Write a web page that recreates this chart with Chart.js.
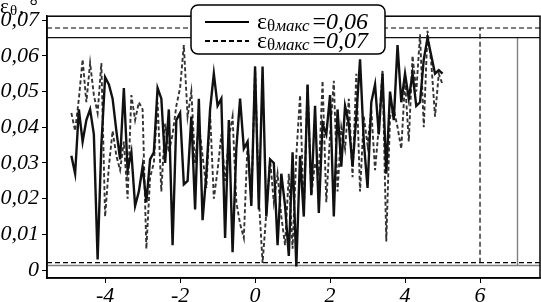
<!DOCTYPE html>
<html lang="ru">
<head>
<meta charset="UTF-8">
<title>εθ макс</title>
<script src="https://cdn.jsdelivr.net/npm/chart.js"></script>
<style>
  body { margin: 0; background: #fff; }
  #wrap { width: 541px; height: 302px; }
</style>
</head>
<body>
<div id="wrap"><canvas id="grafik" width="541" height="302"></canvas></div>
<script>
// координата по оси x
const xs = [
  -4.9,-4.8,-4.7,-4.6,-4.5,-4.4,-4.3,-4.2,-4.1,-4.0,
  -3.9,-3.8,-3.7,-3.6,-3.5,-3.4,-3.3,-3.2,-3.1,-3.0,
  -2.9,-2.8,-2.7,-2.6,-2.5,-2.4,-2.3,-2.2,-2.1,-2.0,
  -1.9,-1.8,-1.7,-1.6,-1.5,-1.4,-1.3,-1.2,-1.1,-1.0,
  -0.9,-0.8,-0.7,-0.6,-0.5,-0.4,-0.3,-0.2,-0.1,0.0,
  0.1,0.2,0.3,0.4,0.5,0.6,0.7,0.8,0.9,1.0,
  1.1,1.2,1.3,1.4,1.5,1.6,1.7,1.8,1.9,2.0,
  2.1,2.2,2.3,2.4,2.5,2.6,2.7,2.8,2.9,3.0,
  3.1,3.2,3.3,3.4,3.5,3.6,3.7,3.8,3.9,4.0,
  4.1,4.2,4.3,4.4,4.5,4.6,4.7,4.8,4.9,5.0
];
// εθ при εθмакс = 0,06 (сплошная)
const eps006 = [
  0.032,0.027,0.045,0.036,0.042,0.045,0.038,0.003,0.035,0.054,
  0.052,0.048,0.039,0.031,0.051,0.028,0.033,0.018,0.022,0.029,
  0.019,0.031,0.033,0.051,0.048,0.030,0.045,0.007,0.042,0.044,
  0.024,0.025,0.043,0.017,0.048,0.014,0.027,0.045,0.055,0.046,
  0.048,0.009,0.042,0.005,0.034,0.048,0.034,0.036,0.018,0.057,
  0.017,0.057,0.015,0.031,0.030,0.007,0.027,0.018,0.004,0.033,
  0.001,0.032,0.015,0.052,0.021,0.046,0.016,0.041,0.038,0.049,
  0.015,0.045,0.029,0.046,0.041,0.029,0.043,0.059,0.036,0.023,
  0.047,0.052,0.038,0.055,0.027,0.050,0.042,0.063,0.047,0.055,
  0.048,0.055,0.046,0.047,0.059,0.065,0.060,0.055,0.056,0.055
];
// εθ при εθмакс = 0,07 (штриховая)
const eps007 = [
  0.044,0.039,0.048,0.059,0.047,0.058,0.049,0.044,0.058,0.015,
  0.029,0.039,0.032,0.028,0.036,0.020,0.049,0.042,0.047,0.045,
  0.006,0.026,0.030,0.047,0.022,0.041,0.033,0.038,0.046,0.051,
  0.063,0.043,0.050,0.030,0.041,0.032,0.023,0.044,0.020,0.028,
  0.038,0.025,0.037,0.043,0.019,0.013,0.009,0.036,0.019,0.057,
  0.020,0.002,0.016,0.031,0.019,0.027,0.015,0.007,0.027,0.006,
  0.032,0.049,0.016,0.052,0.021,0.030,0.027,0.053,0.019,0.038,
  0.053,0.022,0.040,0.034,0.048,0.026,0.055,0.022,0.043,0.035,
  0.045,0.028,0.040,0.056,0.008,0.043,0.045,0.040,0.034,0.053,
  0.036,0.060,0.050,0.066,0.040,0.067,0.058,0.043,0.055,0.052
];
const labels = ['0,06', '0,07'];
const xTicks = [-4, -2, 0, 2, 4, 6];
const yTicks = [0, 0.01, 0.02, 0.03, 0.04, 0.05, 0.06, 0.07];
const xLim = [-5.55, 7.6];
const yLim = [-0.0022, 0.0711];
// уровни и границы
const hDash = [0.0678, 0.0021];
const hSolid = [0.0651, 0.0013];
const vDash = 6;
const vSolid = 7;

const serif = '"Liberation Serif", "Times New Roman", serif';
const pts = ys => xs.map((x, i) => ({ x: x, y: ys[i] }));
const seg = (x0, y0, x1, y1) => [{ x: x0, y: y0 }, { x: x1, y: y1 }];

function refLine(data, color, dash, w) {
  return { data: data, borderColor: color, borderWidth: w, borderDash: dash,
           pointRadius: 0, fill: false };
}

// ε с индексом θ макс
function drawEps(ctx, x, y, value) {
  ctx.font = '24px ' + serif;
  ctx.fillText('ε', x, y);
  x += ctx.measureText('ε').width;
  ctx.font = '17px ' + serif;
  ctx.fillText('θ', x, y + 2);
  x += ctx.measureText('θ').width;
  ctx.font = 'italic 17px ' + serif;
  ctx.fillText('макс', x, y + 2);
  x += ctx.measureText('макс').width + 3;
  ctx.font = '24px ' + serif;
  ctx.fillText('=', x, y);
  x += ctx.measureText('=').width;
  ctx.font = 'italic 24px ' + serif;
  ctx.fillText(value, x, y);
}

const ramka = {
  id: 'ramka',
  afterDraw(chart) {
    const ctx = chart.ctx, a = chart.chartArea;
    ctx.save();
    ctx.strokeStyle = '#000';
    ctx.lineWidth = 1.5;
    ctx.strokeRect(a.left, a.top, a.right - a.left, a.bottom - a.top);

    // подпись оси
    ctx.fillStyle = '#000';
    ctx.textBaseline = 'alphabetic';
    ctx.font = '21px ' + serif;
    ctx.fillText('ε', 0, 13);
    ctx.font = '15px ' + serif;
    ctx.fillText('θ', 10, 15);
    ctx.font = '21px ' + serif;
    ctx.fillText(', °', 19, 13);

    // легенда
    const bx = 191, by = 5, bw = 194, bh = 49, r = 7;
    ctx.beginPath();
    ctx.roundRect(bx, by, bw, bh, r);
    ctx.fillStyle = '#fff';
    ctx.fill();
    ctx.lineWidth = 1.5;
    ctx.strokeStyle = '#000';
    ctx.stroke();

    ctx.lineWidth = 2;
    ctx.beginPath();
    ctx.moveTo(205, 22); ctx.lineTo(249, 22);
    ctx.stroke();
    ctx.setLineDash([5, 3]);
    ctx.lineWidth = 1.8;
    ctx.beginPath();
    ctx.moveTo(205, 41); ctx.lineTo(249, 41);
    ctx.stroke();
    ctx.setLineDash([]);

    ctx.fillStyle = '#000';
    drawEps(ctx, 257, 29, labels[0]);
    drawEps(ctx, 257, 48, labels[1]);
    ctx.restore();
  }
};

const axisFont = { family: serif, size: 22, style: 'italic' };

new Chart(document.getElementById('grafik'), {
  type: 'line',
  data: {
    datasets: [
      { label: 'εθ макс =' + labels[0], data: pts(eps006), borderColor: '#111',
        borderWidth: 2.4, pointRadius: 0, tension: 0 },
      { label: 'εθ макс =' + labels[1], data: pts(eps007), borderColor: '#333',
        borderWidth: 1.9, borderDash: [4, 2.5], pointRadius: 0, tension: 0 },
      refLine(seg(xLim[0], hDash[0], xLim[1], hDash[0]), '#000', [5, 3], 1.2),
      refLine(seg(xLim[0], hDash[1], xLim[1], hDash[1]), '#000', [5, 3], 1.2),
      refLine(seg(xLim[0], hSolid[0], xLim[1], hSolid[0]), '#111', [], 1.4),
      refLine(seg(xLim[0], hSolid[1], xLim[1], hSolid[1]), '#808080', [], 1.4),
      refLine(seg(vDash, hDash[1], vDash, hDash[0]), '#000', [5, 3], 1.2),
      refLine(seg(vSolid, hSolid[1], vSolid, hSolid[0]), '#808080', [], 1.4)
    ]
  },
  options: {
    responsive: false,
    animation: false,
    layout: { padding: { top: 16, right: 1, left: 0, bottom: 0 } },
    plugins: { legend: { display: false }, tooltip: { enabled: false } },
    scales: {
      x: {
        type: 'linear', min: xLim[0], max: xLim[1],
        afterBuildTicks: s => { s.ticks = xTicks.map(v => ({ value: v })); },
        afterFit: s => { s.height = 24; },
        grid: { drawOnChartArea: false, drawTicks: true, tickLength: 5, color: '#000' },
        border: { color: '#000', width: 1.5 },
        ticks: { font: axisFont, color: '#000', padding: 0, maxRotation: 0,
                 callback: v => String(v) }
      },
      y: {
        type: 'linear', min: yLim[0], max: yLim[1],
        afterBuildTicks: s => { s.ticks = yTicks.map(v => ({ value: v })); },
        afterFit: s => { s.width = 47; },
        grid: { drawOnChartArea: false, drawTicks: true, tickLength: 5, color: '#000' },
        border: { color: '#000', width: 1.5 },
        ticks: { font: axisFont, color: '#000', padding: 3,
                 callback: v => v === 0 ? '0' : v.toFixed(2).replace('.', ',') }
      }
    }
  },
  plugins: [ramka]
});
</script>
</body>
</html>
